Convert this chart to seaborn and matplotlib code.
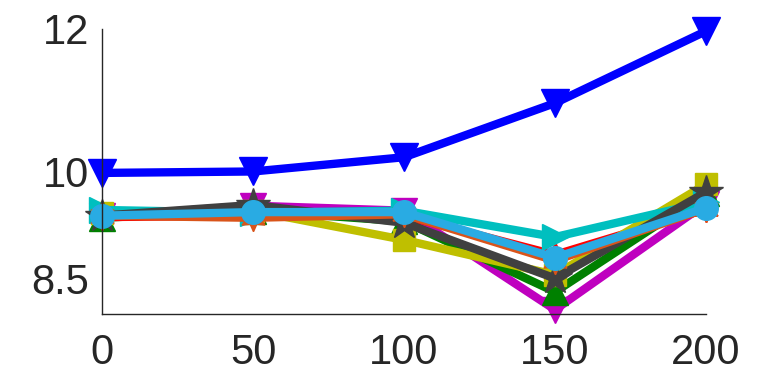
import numpy as np
import pandas as pd
import matplotlib
matplotlib.use("Agg")
import matplotlib.pyplot as plt
import seaborn as sns

steps = [0, 50, 100, 150, 200]

blue = [9.98, 10.0, 10.2, 10.96, 11.97]
magenta = [9.37, 9.52, 9.45, 8.06, 9.55]
green = [9.35, 9.45, 9.30, 8.31, 9.70]
red = [9.36, 9.38, 9.38, 8.83, 9.47]
yellow = [9.42, 9.45, 9.04, 8.55, 9.82]
cyan = [9.46, 9.42, 9.45, 9.08, 9.57]
gray = [9.38, 9.53, 9.28, 8.50, 9.71]
orange = [9.38, 9.35, 9.40, 8.75, 9.48]
lightblue = [9.38, 9.43, 9.43, 8.79, 9.49]

series = [
    ("blue", blue, (0, 0, 1), "v", 20),
    ("magenta", magenta, (0.75, 0, 0.75), "v", 19),
    ("green", green, (0, 0.5, 0), "^", 19),
    ("red", red, (1, 0, 0), (6, 1, 0), 19),
    ("yellow", yellow, (0.75, 0.75, 0), "s", 16),
    ("cyan", cyan, (0, 0.75, 0.75), ">", 19),
    ("gray", gray, (0.25, 0.25, 0.25), "*", 25),
    ("orange", orange, (0.85, 0.33, 0.1), (6, 1, 0), 19),
    ("lightblue", lightblue, (0.16, 0.67, 0.89), "o", 17),
]

sns.set_style("white")
plt.rcParams["font.family"] = ["Liberation Sans", "DejaVu Sans"]

fig = plt.figure(figsize=(7.81, 3.75), dpi=100)
ax = fig.add_axes([0.1306, 0.1627, 0.904 - 0.1306, 0.9227 - 0.1627])

for name, vals, color, marker, ms in series:
    df = pd.DataFrame({"x": steps, "y": vals})
    sns.lineplot(data=df, x="x", y="y", ax=ax, color=color, lw=6,
                 marker=marker, markersize=ms, markeredgecolor=color,
                 markeredgewidth=1, clip_on=False)

ax.set_xlim(0, 200)
ax.set_ylim(8, 12)
ax.set_xticks(steps)
ax.set_xticklabels([str(s) for s in steps])
ax.set_yticks([8.5, 10, 12])
ax.set_yticklabels(["8.5", "10", "12"])
ax.set_xlabel("")
ax.set_ylabel("")

for side in ["top", "right"]:
    ax.spines[side].set_visible(False)
for side in ["left", "bottom"]:
    ax.spines[side].set_color((0.15, 0.15, 0.15))
    ax.spines[side].set_linewidth(1)

ax.tick_params(axis="both", direction="in", length=5, width=1,
               colors=(0.15, 0.15, 0.15), labelsize=30)
ax.tick_params(axis="x", pad=14)
ax.tick_params(axis="y", pad=9)

fig.savefig("out.png", dpi=100)
